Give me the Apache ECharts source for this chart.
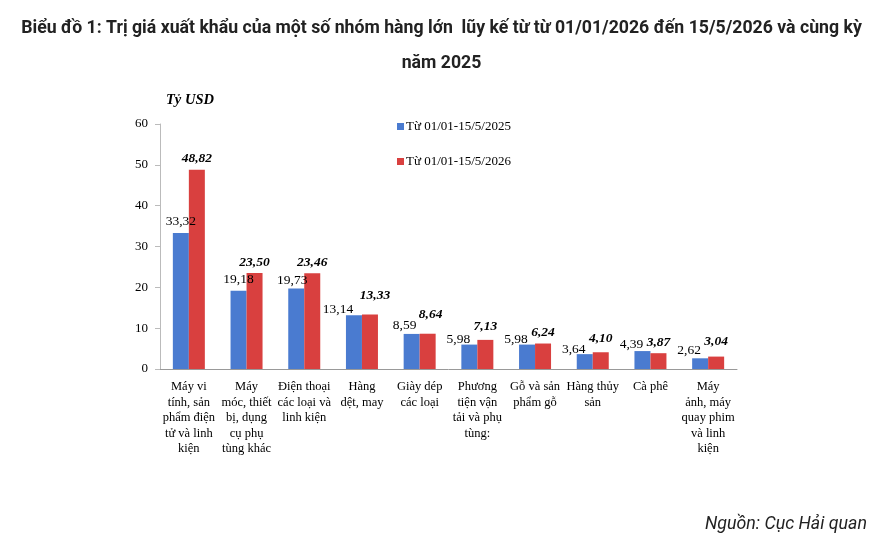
<!DOCTYPE html>
<html>
<head>
<meta charset="utf-8">
<script src="https://cdn.jsdelivr.net/npm/echarts@6/dist/echarts.min.js"></script>
<style>
  html, body { margin: 0; padding: 0; background: #fff; }
  #myChart { width: 883px; height: 545px; }
</style>
</head>
<body>
<div id="myChart"></div>
<script>
// nhóm hàng
const categories = [
  "Máy vi\ntính, sản\nphẩm điện\ntử và linh\nkiện",
  "Máy\nmóc, thiết\nbị, dụng\ncụ phụ\ntùng khác",
  "Điện thoại\ncác loại và\nlinh kiện",
  "Hàng\ndệt, may",
  "Giày dép\ncác loại",
  "Phương\ntiện vận\ntải và phụ\ntùng:",
  "Gỗ và sản\nphẩm gỗ",
  "Hàng thủy\nsản",
  "Cà phê",
  "Máy\nảnh, máy\nquay phim\nvà linh\nkiện"
];
const values2025 = [33.32, 19.18, 19.73, 13.14, 8.59, 5.98, 5.98, 3.64, 4.39, 2.62];
const values2026 = [48.82, 23.50, 23.46, 13.33, 8.64, 7.13, 6.24, 4.10, 3.87, 3.04];
const seriesNames = ["Từ 01/01-15/5/2025", "Từ 01/01-15/5/2026"];
const yTicks = [0, 10, 20, 30, 40, 50, 60];

// vị trí nhãn lệch như bản gốc (px)
const offsets2025 = [[0, 0], [0, 0], [-4, 3], [-16, 5], [-7, 3], [-11, 6], [-11, 6], [-11, 6], [-11, 4], [-11, 3]];
const offsets2026 = [[0, 0], [0, 0], [0, 0], [5, -8], [3, -8], [0, -2], [0, 0], [0, -3], [0, 0], [0, -4]];

const serif = "Liberation Serif";
const fmt = (p) => p.value.toFixed(2).replace(".", ",");
const withOffsets = (vals, offs) =>
  vals.map((v, i) => ({ value: v, label: { offset: offs[i] } }));

let myChart = echarts.init(document.getElementById("myChart"));
myChart.setOption({
  animation: false,
  title: [
    {
      text: "Biểu đồ 1: Trị giá xuất khẩu của một số nhóm hàng lớn  lũy kế từ từ 01/01/2026 đến 15/5/2026 và cùng kỳ",
      left: "center",
      top: 15,
      textStyle: {
        fontFamily: "Roboto",
        fontWeight: "bold",
        fontSize: 17.7,
        color: "#222",
      },
    },
    {
      text: "năm 2025",
      left: "center",
      top: 50,
      textStyle: {
        fontFamily: "Roboto",
        fontWeight: "bold",
        fontSize: 17.7,
        color: "#222",
      },
    },
    {
      text: "Nguồn: Cục Hải quan",
      right: 11,
      top: 511,
      textStyle: {
        fontFamily: "Roboto",
        fontStyle: "italic",
        fontWeight: "normal",
        fontSize: 17.8,
        color: "#222",
      },
    },
  ],
  grid: {
    left: 160,
    right: 146,
    top: 124,
    bottom: 176,
  },
  legend: {
    orient: "vertical",
    left: 392,
    top: 115,
    itemGap: 22,
    itemWidth: 7,
    itemHeight: 7,
    icon: "rect",
    textStyle: { fontFamily: serif, fontSize: 13, color: "#000", padding: [0, 0, 0, -3] },
    data: seriesNames,
  },
  xAxis: {
    type: "category",
    data: categories,
    axisLine: { lineStyle: { color: "#999" } },
    axisTick: { lineStyle: { color: "#bbb" } },
    axisLabel: {
      interval: 0,
      fontFamily: serif,
      fontSize: 12.5,
      color: "#000",
      lineHeight: 15.5,
      margin: 10,
    },
  },
  yAxis: {
    type: "value",
    name: "Tỷ USD",
    nameLocation: "end",
    nameGap: 16,
    nameTextStyle: {
      fontFamily: serif,
      fontStyle: "italic",
      fontWeight: "bold",
      fontSize: 14.5,
      color: "#000",
      align: "left",
      padding: [0, 0, 0, 6],
    },
    min: 0,
    max: 60,
    interval: 10,
    splitLine: { show: false },
    axisLine: { show: true, lineStyle: { color: "#bbb" } },
    axisTick: { show: true, lineStyle: { color: "#bbb" } },
    axisLabel: {
      fontFamily: serif,
      fontSize: 13,
      color: "#000",
      margin: 12,
      formatter: (v) => (yTicks.includes(v) ? String(v) : ""),
    },
  },
  series: [
    {
      name: seriesNames[0],
      type: "bar",
      data: withOffsets(values2025, offsets2025),
      barWidth: 16,
      barGap: "0%",
      itemStyle: { color: "#4a7bd0" },
      label: {
        show: true,
        position: "top",
        distance: 4,
        fontFamily: serif,
        fontSize: 13.5,
        color: "#000",
        formatter: fmt,
      },
    },
    {
      name: seriesNames[1],
      type: "bar",
      data: withOffsets(values2026, offsets2026),
      barWidth: 16,
      barGap: "0%",
      itemStyle: { color: "#d9403f" },
      label: {
        show: true,
        position: "top",
        distance: 4,
        fontFamily: serif,
        fontSize: 13.5,
        fontStyle: "italic",
        fontWeight: "bold",
        color: "#000",
        formatter: fmt,
      },
    },
  ],
});
</script>
</body>
</html>
